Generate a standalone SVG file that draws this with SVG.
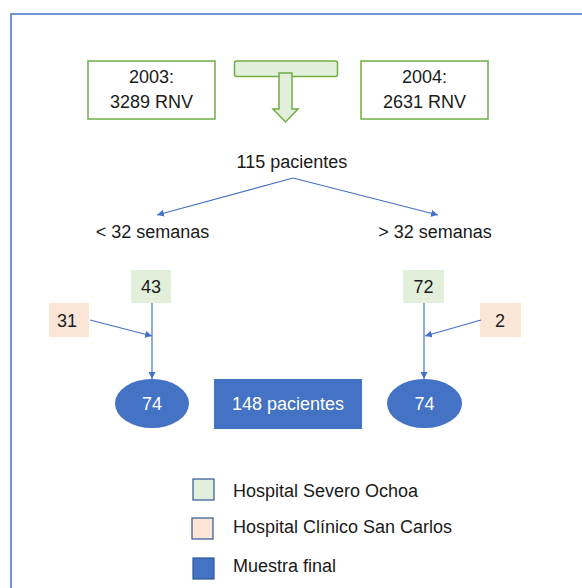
<svg xmlns="http://www.w3.org/2000/svg" width="582" height="588" viewBox="0 0 582 588">
<style>
text{font-family:"Liberation Sans",Arial,sans-serif;font-size:18px;fill:#1a1a1a;text-anchor:middle}
.w{fill:#ffffff}
.lg{text-anchor:start}
.yr{fill:#ffffff;stroke:#70AD47;stroke-width:1.5}
.gr{fill:#E2EFDA}
.or{fill:#FBE5D6}
.bl{fill:#4472C4}
.edge{stroke:#4472C4;stroke-width:1.2;fill:none;marker-end:url(#ah)}
.leg{stroke:#2F5597;stroke-width:1.2}
</style>
<defs>
<marker id="ah" viewBox="0 0 10 10" refX="10" refY="5" markerWidth="7" markerHeight="7" markerUnits="userSpaceOnUse" orient="auto">
<path d="M0,0 L10,5 L0,10 z" fill="#4472C4"/>
</marker>
</defs>
<rect x="11" y="14" width="620" height="620" fill="none" stroke="#4472C4" stroke-width="1.5"/>
<g id="y2003"><rect class="yr" x="88" y="61" width="127" height="58"/><text x="151.5" y="83">2003:</text><text x="151.5" y="108">3289 RNV</text></g>
<g id="y2004"><rect class="yr" x="361" y="61" width="127" height="58"/><text x="424.5" y="83">2004:</text><text x="424.5" y="108">2631 RNV</text></g>
<g id="merge">
<rect x="234.5" y="61" width="103" height="15.5" rx="2" fill="#E2EFDA" stroke="#70AD47" stroke-width="1.5"/>
<path d="M279,73 H292 V109 H298 L285.5,122 L273,109 H279 Z" fill="#E2EFDA" stroke="#70AD47" stroke-width="1.5" stroke-linejoin="miter"/>
</g>
<g id="total"><text x="292" y="168">115 pacientes</text></g>
<g id="lt32"><text x="152.5" y="238">&lt; 32 semanas</text></g>
<g id="gt32"><text x="435" y="238">&gt; 32 semanas</text></g>
<g id="n43"><rect class="gr" x="131" y="270" width="40" height="33"/><text x="151" y="293">43</text></g>
<g id="n31"><rect class="or" x="49" y="303" width="40" height="34"/><text x="67" y="327">31</text></g>
<g id="n72"><rect class="gr" x="403" y="270" width="41" height="33"/><text x="423.5" y="293">72</text></g>
<g id="n2"><rect class="or" x="480" y="303" width="41" height="34"/><text x="500" y="327">2</text></g>
<g id="e74a"><ellipse class="bl" cx="152" cy="403.5" rx="37" ry="24.5"/><text class="w" x="152" y="410">74</text></g>
<g id="final"><rect class="bl" x="214" y="379" width="148" height="50"/><text class="w" x="288" y="410">148 pacientes</text></g>
<g id="e74b"><ellipse class="bl" cx="424.5" cy="403.5" rx="37.5" ry="24.5"/><text class="w" x="424.5" y="410">74</text></g>
<g id="connectors">
<line class="edge" x1="293" y1="178" x2="157" y2="215"/>
<line class="edge" x1="293" y1="178" x2="438" y2="215"/>
<line class="edge" x1="152" y1="303" x2="152" y2="379"/>
<line class="edge" x1="90" y1="320" x2="152" y2="336"/>
<line class="edge" x1="424" y1="303" x2="424" y2="379"/>
<line class="edge" x1="481" y1="320" x2="425" y2="336"/>
</g>
<g id="legend">
<rect class="gr leg" x="193" y="479" width="21" height="21"/>
<text class="lg" x="233" y="497">Hospital Severo Ochoa</text>
<rect class="or leg" x="192" y="518" width="21" height="21"/>
<text class="lg" x="233" y="533">Hospital Clínico San Carlos</text>
<rect class="bl leg" x="193" y="558" width="21" height="21"/>
<text class="lg" x="233" y="572">Muestra final</text>
</g>
</svg>
